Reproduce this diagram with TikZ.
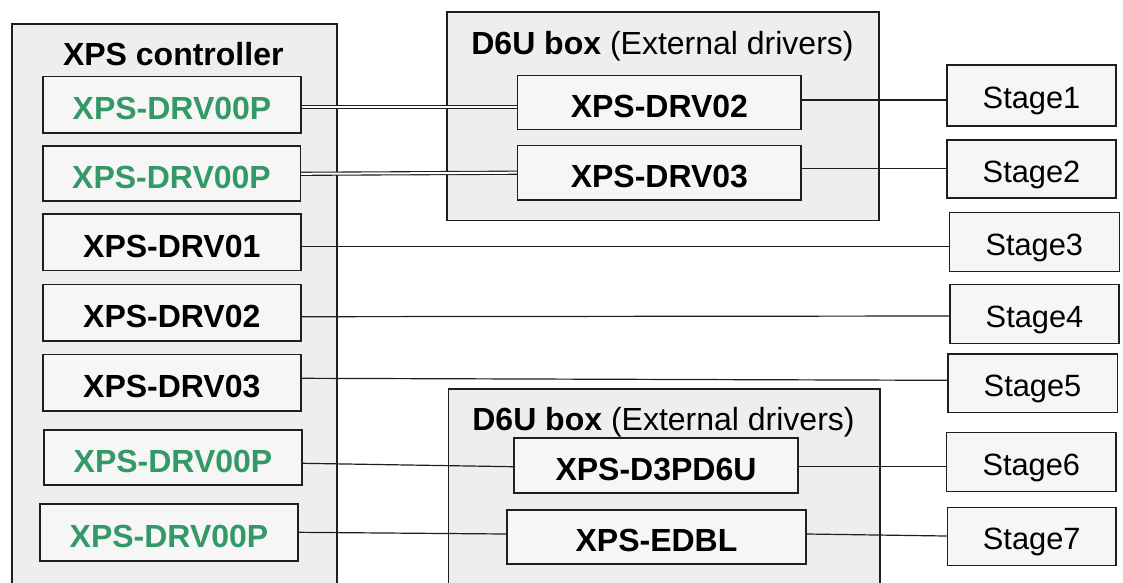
\documentclass[tikz,border=0pt]{standalone}
\usepackage{fontspec}
\setmainfont{Liberation Sans}
\definecolor{drvgreen}{RGB}{51,153,102}
\definecolor{framefill}{RGB}{238,238,238}
\definecolor{boxfill}{RGB}{246,246,246}
\definecolor{edge}{RGB}{30,30,30}
\tikzset{
  frame/.style={draw=edge, line width=1.5pt, fill=framefill, anchor=north west, inner sep=0pt},
  drvbox/.style={draw=edge, line width=1.5pt, fill=boxfill, inner sep=0pt,
    text height=29.9pt, text depth=0pt,
    font=\fontsize{32}{36}\selectfont\bfseries},
  greenbox/.style={drvbox, text=drvgreen},
  stagebox/.style={draw=edge, line width=1.5pt, fill=boxfill, inner sep=0pt,
    text height=26.4pt, text depth=0pt,
    font=\fontsize{30.8}{36}\selectfont},
  title/.style={inner sep=0pt, anchor=base, font=\fontsize{32}{36}\selectfont},
  link/.style={draw=edge, line width=1.2pt},
  dbllink/.style={draw=edge, line width=1.1pt, double=white, double distance=2pt}
}
\begin{document}
\begin{tikzpicture}[x=1pt,y=-1pt]
\useasboundingbox (0,0) rectangle (1123,582);
\clip (0,0) rectangle (1123,582);
\fill[white] (0,0) rectangle (1123,582);

% frames
\node[frame, minimum width=325pt, minimum height=590pt] (ctrl) at (11,23) {};
\node[frame, minimum width=432pt, minimum height=208.5pt] (boxa) at (446,11) {};
\node[frame, minimum width=431.5pt, minimum height=220pt] (boxb) at (447.5,388) {};

% titles
\node[title, font=\fontsize{32}{36}\selectfont\bfseries] (tctrl) at (173.3,65) {XPS controller};
\node[title] (tboxa) at (662.5,54) {\textbf{D6U box} (External drivers)};
\node[title] (tboxb) at (663.5,430.7) {\textbf{D6U box} (External drivers)};

% controller drivers
\node[greenbox, minimum width=258pt, minimum height=56.5pt] (c1) at (172,104.5) {XPS-DRV00P};
\node[greenbox, minimum width=257.5pt, minimum height=55pt] (c2) at (171.5,173.5) {XPS-DRV00P};
\node[drvbox, minimum width=258pt, minimum height=56.5pt] (c3) at (171.8,242.3) {XPS-DRV01};
\node[drvbox, minimum width=258pt, minimum height=56.5pt] (c4) at (171.8,312.7) {XPS-DRV02};
\node[drvbox, minimum width=258pt, minimum height=56.5pt] (c5) at (171.8,382.7) {XPS-DRV03};
\node[greenbox, minimum width=258pt, minimum height=55pt] (c6) at (173,457.5) {XPS-DRV00P};
\node[greenbox, minimum width=258pt, minimum height=57pt] (c7) at (169,532.5) {XPS-DRV00P};

% external drivers
\node[drvbox, minimum width=283.5pt, minimum height=54pt] (d2) at (659.4,102.3) {XPS-DRV02};
\node[drvbox, minimum width=283.5pt, minimum height=54.5pt] (d3) at (659.4,172.7) {XPS-DRV03};
\node[drvbox, minimum width=284pt, minimum height=55pt] (d6) at (656,465.5) {XPS-D3PD6U};
\node[drvbox, minimum width=299pt, minimum height=54pt] (de) at (656.5,537) {XPS-EDBL};

% stages
\node[stagebox, minimum width=169pt, minimum height=61pt] (s1) at (1031.5,95.5) {Stage1};
\node[stagebox, minimum width=169pt, minimum height=58pt] (s2) at (1031.5,169) {Stage2};
\node[stagebox, minimum width=170pt, minimum height=59pt] (s3) at (1034.3,242) {Stage3};
\node[stagebox, minimum width=169pt, minimum height=59pt] (s4) at (1034.5,313.8) {Stage4};
\node[stagebox, minimum width=169.5pt, minimum height=58.5pt] (s5) at (1032.5,383.3) {Stage5};
\node[stagebox, minimum width=169.3pt, minimum height=59pt] (s6) at (1031.3,462.2) {Stage6};
\node[stagebox, minimum width=168.7pt, minimum height=58.4pt] (s7) at (1031.7,536.5) {Stage7};

% connectors (yshift is upward on the page)
\draw[dbllink] ([yshift=-2.5pt]c1.east) -- ([yshift=-4.7pt]d2.west);
\draw[dbllink] ([yshift=-0.3pt]c2.east) -- ([yshift=0pt]d3.west);
\draw[link] ([yshift=2.3pt]d2.east) -- ([yshift=-4.5pt]s1.west);
\draw[link] ([yshift=4.4pt]d3.east) -- ([yshift=0.7pt]s2.west);
\draw[link] ([yshift=-4.4pt]c3.east) -- ([yshift=-4.7pt]s3.west);
\draw[link] ([yshift=-4pt]c4.east) -- ([yshift=-2.2pt]s4.west);
\draw[link] ([yshift=4.4pt]c5.east) -- ([yshift=3pt]s5.west);
\draw[link] ([yshift=-5.8pt]c6.east) -- ([yshift=-1.2pt]d6.west);
\draw[link] ([yshift=-1.2pt]d6.east) -- ([yshift=-4.5pt]s6.west);
\draw[link] ([yshift=0.2pt]c7.east) -- ([yshift=3pt]de.west);
\draw[link] ([yshift=3pt]de.east) -- ([yshift=0.5pt]s7.west);
\end{tikzpicture}
\end{document}
